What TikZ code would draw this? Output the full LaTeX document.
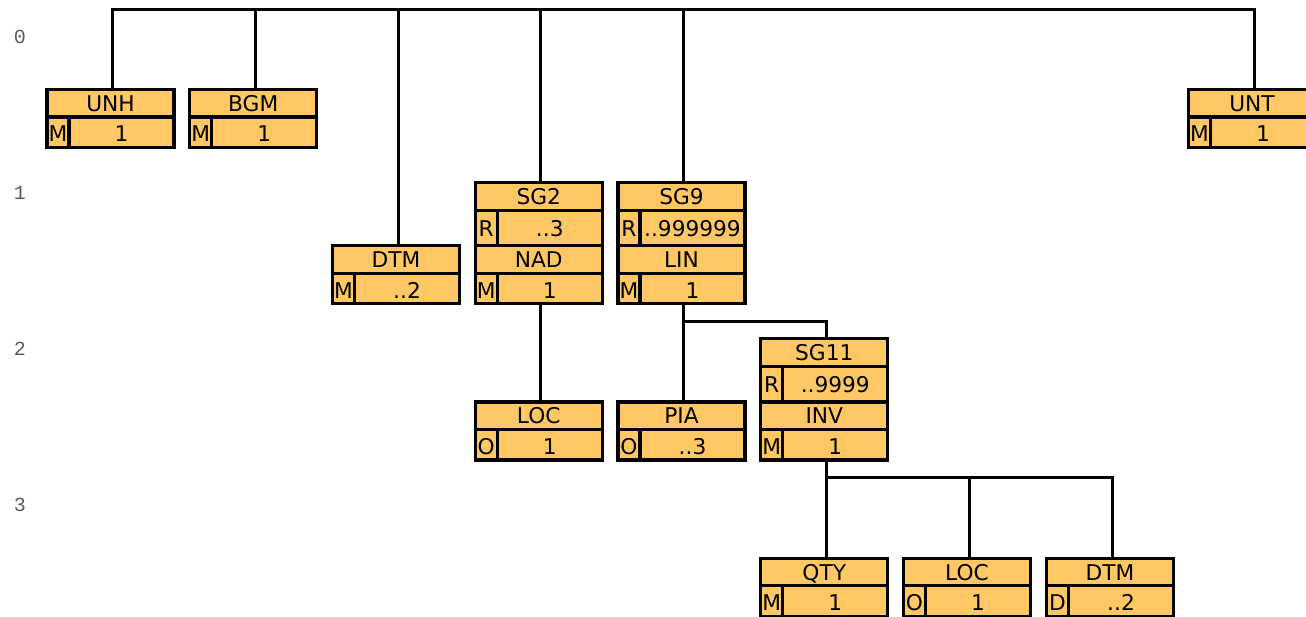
\documentclass[tikz,border=0pt]{standalone}
\usepackage{fontspec}
\setmainfont{DejaVu Sans}
\newfontfamily\levelfont{Liberation Mono}
\usetikzlibrary{calc}
\definecolor{segfill}{RGB}{255,200,100}
\definecolor{levgray}{RGB}{90,90,90}
\tikzset{
  frame/.style={draw=black, line width=3.2pt, fill=segfill, inner sep=0pt, outer sep=0pt, anchor=north west, minimum width=127pt},
  rule/.style={draw=black, line width=3.2pt},
  conn/.style={draw=black, line width=3pt, line cap=rect},
  txt/.style={inner sep=0pt, font=\fontsize{21.7}{21.7}\selectfont, text height=15.8pt, text depth=0pt},
  lev/.style={font=\levelfont\fontsize{20}{20}\selectfont, text=levgray, inner sep=0pt},
}
\newcommand\segment[6]{%
  \node[frame, minimum height=58pt] (#1) at (#2,#3) {};
  \draw[rule] (#2,#3+27.5) -- (#2+127,#3+27.5);
  \draw[rule] (#2+22,#3+27.5) -- (#2+22,#3+58);
  \node[txt] at (#2+63.5,#3+14) {#4};
  \node[txt] at (#2+11,#3+44.5) {#5};
  \node[txt] at (#2+74.5,#3+44.5) {#6};
}
\newcommand\segroup[6]{%
  \node[frame, minimum height=63pt] (#1) at (#2,#3) {};
  \draw[rule] (#2,#3+28) -- (#2+127,#3+28);
  \draw[rule] (#2+22,#3+28) -- (#2+22,#3+63);
  \node[txt] at (#2+63.5,#3+14) {#4};
  \node[txt] at (#2+11,#3+46) {#5};
  \node[txt] at (#2+74.5,#3+46) {#6};
}
\begin{document}
\begin{tikzpicture}[x=1pt,y=-1pt]
\useasboundingbox (0,0) rectangle (1306,617);
\clip (0,0) rectangle (1306,617);
% level labels
\node[lev] (l0) at (20,36.5) {0};
\node[lev] (l1) at (20,192.7) {1};
\node[lev] (l2) at (20,348.9) {2};
\node[lev] (l3) at (20,505.1) {3};
% level 0
\segment{unh}{47}{89.5}{UNH}{M}{1}
\segment{bgm}{189.75}{89.5}{BGM}{M}{1}
\segment{unt}{1188.5}{89.5}{UNT}{M}{1}
% level 1
\segment{dtma}{332.5}{245.7}{DTM}{M}{..2}
\segroup{sgtwo}{475.25}{182.7}{SG2}{R}{..3}
\segment{nad}{475.25}{245.7}{NAD}{M}{1}
\segroup{sgnine}{618}{182.7}{SG9}{R}{..999999}
\segment{lin}{618}{245.7}{LIN}{M}{1}
% level 2
\segment{loca}{475.25}{401.9}{LOC}{O}{1}
\segment{pia}{618}{401.9}{PIA}{O}{..3}
\segroup{sgeleven}{760.75}{338.9}{SG11}{R}{..9999}
\segment{inv}{760.75}{401.9}{INV}{M}{1}
% level 3
\segment{qty}{760.75}{558.1}{QTY}{M}{1}
\segment{locb}{903.5}{558.1}{LOC}{O}{1}
\segment{dtmb}{1046.5}{558.1}{DTM}{D}{..2}
% connectors
\coordinate (bus0) at (0,10);
\draw[conn] ([xshift=2pt]unh.north) -- ([xshift=2pt]unh.north |- bus0) -- ([xshift=2pt]unt.north |- bus0) -- ([xshift=2pt]unt.north);
\foreach \n in {bgm,dtma,sgtwo,sgnine}
  \draw[conn] ([xshift=2pt]\n.north) -- ([xshift=2pt]\n.north |- bus0);
\draw[conn] ([xshift=2pt]nad.south) -- ([xshift=2pt]loca.north);
\draw[conn] ([xshift=2pt]lin.south) -- ([xshift=2pt]pia.north);
\coordinate (bus2) at ($(lin.south)+(0,17.8)$);
\draw[conn] ([xshift=2pt]lin.south |- bus2) -- ([xshift=2pt]sgeleven.north |- bus2) -- ([xshift=2pt]sgeleven.north);
\coordinate (bus3) at ($(inv.south)+(0,17.6)$);
\draw[conn] ([xshift=2pt]inv.south) -- ([xshift=2pt]qty.north);
\draw[conn] ([xshift=2pt]qty.north |- bus3) -- ([xshift=2pt]dtmb.north |- bus3) -- ([xshift=2pt]dtmb.north);
\draw[conn] ([xshift=2pt]locb.north |- bus3) -- ([xshift=2pt]locb.north);
\end{tikzpicture}
\end{document}
